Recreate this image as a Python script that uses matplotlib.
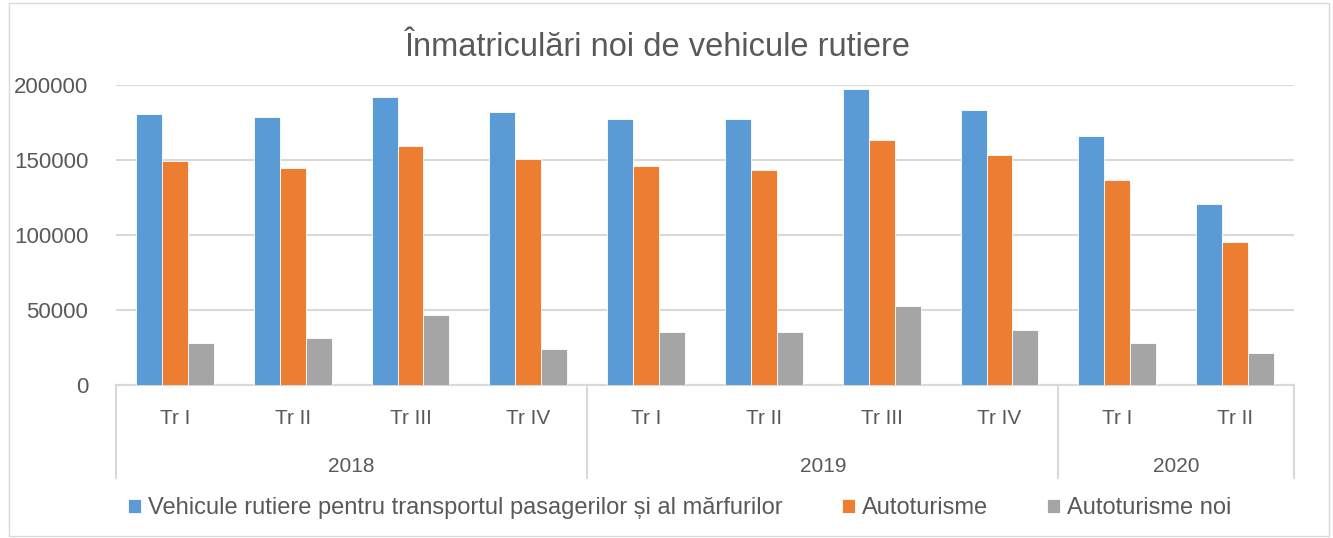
import matplotlib
matplotlib.use("Agg")
import matplotlib.pyplot as plt
from matplotlib import font_manager
from matplotlib.patches import Rectangle
from matplotlib.lines import Line2D
import numpy as np

quarters = ["Tr I", "Tr II", "Tr III", "Tr IV", "Tr I", "Tr II", "Tr III", "Tr IV", "Tr I", "Tr II"]
years = ["2018", "2019", "2020"]
year_counts = [4, 4, 2]
series_names = ["Vehicule rutiere pentru transportul pasagerilor și al mărfurilor",
                "Autoturisme", "Autoturisme noi"]
vehicule = [180700, 178900, 192000, 181800, 177600, 177600, 197300, 183300, 166200, 120700]
autoturisme = [149300, 144900, 159100, 150400, 146200, 143300, 163300, 153300, 136400, 95100]
autoturisme_noi = [28200, 31100, 46700, 24000, 35100, 35100, 52400, 36700, 28200, 21100]
colors = ["#5B9BD5", "#ED7D31", "#A5A5A5"]

names = {f.name for f in font_manager.fontManager.ttflist}
narrow = "Liberation Sans Narrow" if "Liberation Sans Narrow" in names else "Liberation Sans"
reg = "Liberation Sans"
txt = "#595959"
grid_c = "#D9D9D9"

W, H = 1333, 538
fig = plt.figure(figsize=(W / 100, H / 100), dpi=100)
L, R, T, B = 116, 1294, 85, 385
ax = fig.add_axes([L / W, 1 - B / H, (R - L) / W, (B - T) / H])

x = np.arange(len(quarters))
bw = 0.22
for i, (vals, c) in enumerate(zip([vehicule, autoturisme, autoturisme_noi], colors)):
    ax.bar(x + (i - 1) * bw, vals, width=bw, color=c, edgecolor="white", linewidth=0.6,
           label=series_names[i], zorder=3)

ax.set_xlim(-0.5, len(quarters) - 0.5)
ax.set_ylim(0, 200000)
ax.set_yticks([0, 50000, 100000, 150000, 200000])
ax.set_yticklabels(["0", "50000", "100000", "150000", "200000"], fontfamily=reg,
                   fontsize=16, color=txt)
ax.tick_params(axis="y", length=0, pad=20)
ax.grid(axis="y", color=grid_c, linewidth=1.5, zorder=0)
for s in ["top", "right", "left"]:
    ax.spines[s].set_visible(False)
ax.spines["bottom"].set_color(grid_c)
ax.spines["bottom"].set_linewidth(1.5)
ax.set_xticks([])

tr = ax.get_xaxis_transform()
ph = B - T
for xi, q in zip(x, quarters):
    ax.text(xi, -(419 - B) / ph, q, transform=tr, ha="center", va="center",
            fontfamily=narrow, fontsize=15, color=txt)
start = 0
seps = [-0.5]
for yname, cnt in zip(years, year_counts):
    mid = start + (cnt - 1) / 2
    ax.text(mid, -(466 - B) / ph, yname, transform=tr, ha="center", va="center",
            fontfamily=narrow, fontsize=15, color=txt)
    start += cnt
    seps.append(start - 0.5)
for s in seps:
    ax.add_line(Line2D([s, s], [0, -(478 - B) / ph], transform=tr, color=grid_c,
                       linewidth=1.5, clip_on=False))

fig.text(658 / W, 1 - 48 / H, "Înmatriculări noi de vehicule rutiere", ha="center",
         va="center", fontfamily=reg, fontsize=23.5, color=txt)

handles, labels = ax.get_legend_handles_labels()
leg = fig.legend(handles, labels, loc="center", bbox_to_anchor=(680 / W, 1 - 508 / H),
                 ncol=3, frameon=False, prop={"family": narrow, "size": 17},
                 handlelength=0.55, handleheight=0.55, handletextpad=0.3,
                 columnspacing=2.5, labelcolor=txt)

fig.add_artist(Rectangle((9 / W, 2 / H), 1320 / W, 533 / H, transform=fig.transFigure,
                         fill=False, edgecolor=grid_c, linewidth=1))

fig.savefig("out.png", dpi=100, facecolor="white")
